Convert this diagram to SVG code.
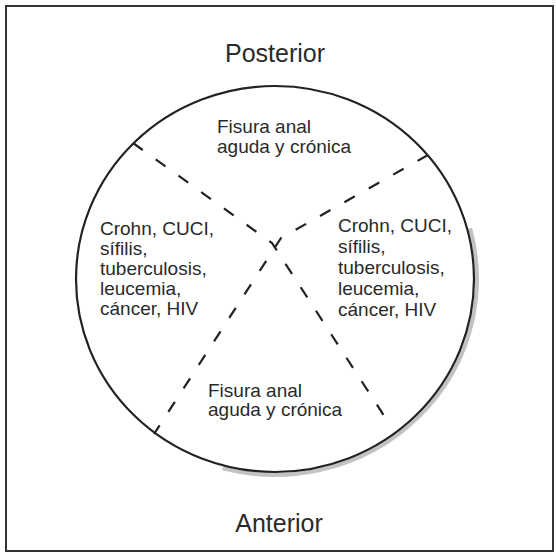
<svg xmlns="http://www.w3.org/2000/svg" width="556" height="553" viewBox="0 0 556 553">
<style>
.lbl{font-family:"Liberation Sans",Arial,sans-serif;fill:#2a2a2a}
.big{font-size:25px}
.sm{font-size:19px}
.dash{fill:none;stroke:#222;stroke-width:2.2;stroke-dasharray:12 16}
</style>
<rect width="556" height="553" fill="#ffffff"/>
<g id="frame">
<rect x="6" y="6" width="547" height="545" fill="none" stroke="#333" stroke-width="2"/>
</g>
<g id="circle">
<path d="M470.1 228.3 A202 196 0 0 1 222.7 468.3" fill="none" stroke="#9a9a9a" stroke-width="4" stroke-opacity="0.6"/>
<ellipse cx="275" cy="279" rx="199" ry="193" fill="none" stroke="#222" stroke-width="2.2"/>
</g>
<g id="connectors">
<polyline class="dash" points="133,143 272,243 392,428"/>
<polyline class="dash" points="428,155 281,238 154,434"/>
</g>
<g id="posterior"><text class="lbl big" x="275" y="62" text-anchor="middle">Posterior</text></g>
<g id="anterior"><text class="lbl big" x="279" y="532" text-anchor="middle">Anterior</text></g>
<g id="top-sector">
<text class="lbl sm" x="217" y="133">Fisura anal</text>
<text class="lbl sm" x="217" y="153">aguda y crónica</text>
</g>
<g id="bottom-sector">
<text class="lbl sm" x="208" y="397">Fisura anal</text>
<text class="lbl sm" x="208" y="416">aguda y crónica</text>
</g>
<g id="left-sector">
<text class="lbl sm" x="100" y="235">Crohn, CUCI,</text>
<text class="lbl sm" x="100" y="255">sífilis,</text>
<text class="lbl sm" x="100" y="275">tuberculosis,</text>
<text class="lbl sm" x="100" y="295">leucemia,</text>
<text class="lbl sm" x="100" y="315">cáncer, HIV</text>
</g>
<g id="right-sector">
<text class="lbl sm" x="338" y="232">Crohn, CUCI,</text>
<text class="lbl sm" x="338" y="253">sífilis,</text>
<text class="lbl sm" x="338" y="274">tuberculosis,</text>
<text class="lbl sm" x="338" y="295">leucemia,</text>
<text class="lbl sm" x="338" y="316">cáncer, HIV</text>
</g>
</svg>
